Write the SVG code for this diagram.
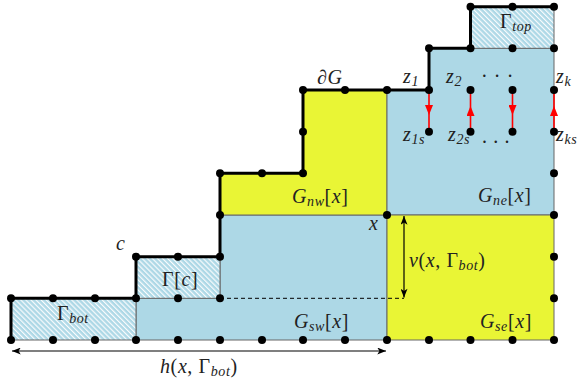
<svg xmlns="http://www.w3.org/2000/svg" width="579" height="388" viewBox="0 0 579 388">
<style>
.blue{fill:#add8e6;stroke:#666;stroke-width:1}
.yel{fill:#e9f535;stroke:#666;stroke-width:1}
.hat{fill:url(#hatch);stroke:#666;stroke-width:1}
.bd{fill:none;stroke:#000;stroke-width:3;stroke-linejoin:miter}
text{font-family:'Liberation Serif','Times New Roman',serif;font-size:20px;fill:#222;letter-spacing:0.6px}
.i{font-style:italic}
.s{font-size:14px;font-style:italic}
.dot{fill:#000}
.red{stroke:#f00;stroke-width:1.6;fill:none}
.blk{stroke:#000;stroke-width:1.2;fill:none}
</style>
<defs>
<pattern id="hatch" patternUnits="userSpaceOnUse" width="3.6" height="3.6" patternTransform="rotate(-45)">
<rect width="3.6" height="3.6" fill="#add8e6"/>
<line x1="0.6" y1="0" x2="0.6" y2="3.6" stroke="#fff" stroke-width="1.1"/>
</pattern>
<marker id="rh" viewBox="0 0 10 8" refX="10" refY="4" markerWidth="10" markerHeight="8" markerUnits="userSpaceOnUse" orient="auto">
<path d="M0,0 L10,4 L0,8 Z" fill="#f00"/>
</marker>
<marker id="ah" viewBox="0 0 10 8" refX="10" refY="4" markerWidth="10" markerHeight="7" markerUnits="userSpaceOnUse" orient="auto-start-reverse">
<path d="M0,0 L10,4 L0,8 L2.5,4 Z" fill="#000"/>
</marker>
</defs>

<g id="G_sw"><path class="blue" d="M136,298.3 L220,298.3 L220,215 L387,215 L387,340 L136,340 Z"/></g>
<g id="G_nw"><path class="yel" d="M220,215 L220,173.3 L303,173.3 L303,90 L387,90 L387,215 Z"/></g>
<g id="G_ne"><path class="blue" d="M387,90 L429,90 L429,48.3 L554,48.3 L554,215 L387,215 Z"/></g>
<g id="G_se"><path class="yel" d="M387,215 L554,215 L554,340 L387,340 Z"/></g>
<g id="Gamma_bot"><rect class="hat" x="11" y="298.3" width="125" height="41.7"/></g>
<g id="Gamma_c"><rect class="hat" x="136" y="256.7" width="84" height="41.6"/></g>
<g id="Gamma_top"><rect class="hat" x="470.5" y="6.7" width="83.5" height="41.6"/></g>

<g id="boundary"><path class="bd" d="M11,340 L11,298.3 L136,298.3 L136,256.7 L220,256.7 L220,173.3 L303,173.3 L303,90 L429,90 L429,48.3 L470.5,48.3 L470.5,6.7 L554,6.7"/></g>

<g id="connectors">
<line x1="220" y1="298.3" x2="404" y2="298.3" stroke="#000" stroke-width="1" stroke-dasharray="4,3"/>
<line class="blk" x1="404" y1="216" x2="404" y2="297.5" marker-start="url(#ah)" marker-end="url(#ah)"/>
<line class="blk" x1="12" y1="351" x2="386" y2="351" marker-start="url(#ah)" marker-end="url(#ah)"/>
<path class="red" d="M429,90 L429,115 L429,131.7" marker-mid="url(#rh)"/>
<path class="red" d="M470.5,131.7 L470.5,106 L470.5,90" marker-mid="url(#rh)"/>
<path class="red" d="M512.5,90 L512.5,115 L512.5,131.7" marker-mid="url(#rh)"/>
<path class="red" d="M554,131.7 L554,106 L554,90" marker-mid="url(#rh)"/>
</g>

<g id="dots" class="dot">
<circle cx="11" cy="340" r="4"/><circle cx="53" cy="340" r="4"/><circle cx="95" cy="340" r="4"/><circle cx="136" cy="340" r="4"/><circle cx="178" cy="340" r="4"/><circle cx="220" cy="340" r="4"/><circle cx="262" cy="340" r="4"/><circle cx="303" cy="340" r="4"/><circle cx="345" cy="340" r="4"/><circle cx="387" cy="340" r="4"/><circle cx="429" cy="340" r="4"/><circle cx="470.5" cy="340" r="4"/><circle cx="512.5" cy="340" r="4"/><circle cx="554" cy="340" r="4"/>
<circle cx="11" cy="298.3" r="4"/><circle cx="53" cy="298.3" r="4"/><circle cx="95" cy="298.3" r="4"/><circle cx="136" cy="298.3" r="4"/><circle cx="178" cy="298.3" r="4"/><circle cx="220" cy="298.3" r="4"/><circle cx="554" cy="298.3" r="4"/>
<circle cx="136" cy="256.7" r="4"/><circle cx="178" cy="256.7" r="4"/><circle cx="220" cy="256.7" r="4"/><circle cx="554" cy="256.7" r="4"/>
<circle cx="220" cy="215" r="4"/><circle cx="387" cy="215" r="4"/><circle cx="554" cy="215" r="4"/>
<circle cx="220" cy="173.3" r="4"/><circle cx="262" cy="173.3" r="4"/><circle cx="303" cy="173.3" r="4"/><circle cx="554" cy="173.3" r="4"/>
<circle cx="303" cy="131.7" r="4"/><circle cx="429" cy="131.7" r="4"/><circle cx="470.5" cy="131.7" r="4"/><circle cx="512.5" cy="131.7" r="4"/><circle cx="554" cy="131.7" r="4"/>
<circle cx="303" cy="90" r="4"/><circle cx="345" cy="90" r="4"/><circle cx="387" cy="90" r="4"/><circle cx="429" cy="90" r="4"/><circle cx="470.5" cy="90" r="4"/><circle cx="512.5" cy="90" r="4"/><circle cx="554" cy="90" r="4"/>
<circle cx="429" cy="48.3" r="4"/><circle cx="470.5" cy="48.3" r="4"/><circle cx="512.5" cy="48.3" r="4"/><circle cx="554" cy="48.3" r="4"/>
<circle cx="470.5" cy="6.7" r="4"/><circle cx="512.5" cy="6.7" r="4"/><circle cx="554" cy="6.7" r="4"/>
</g>

<g id="labels">
<text x="116" y="250" class="i">c</text>
<text x="162" y="286">Γ[<tspan class="i">c</tspan>]</text>
<text x="57" y="320">Γ<tspan class="s" dy="3">bot</tspan></text>
<text x="500" y="28">Γ<tspan class="s" dy="3">top</tspan></text>
<text x="317" y="84"><tspan class="i">∂G</tspan></text>
<text x="403" y="83" class="i">z<tspan class="s" dy="3">1</tspan></text>
<text x="446" y="83" class="i">z<tspan class="s" dy="3">2</tspan></text>
<text x="481" y="83">· · ·</text>
<text x="556" y="83" class="i">z<tspan class="s" dy="3">k</tspan></text>
<text x="403" y="141" class="i">z<tspan class="s" dy="3">1s</tspan></text>
<text x="448" y="141" class="i">z<tspan class="s" dy="3">2s</tspan></text>
<text x="482" y="143">. . .</text>
<text x="556" y="141" class="i">z<tspan class="s" dy="3">ks</tspan></text>
<text x="292" y="203" class="i">G<tspan class="s" dy="3">nw</tspan><tspan dy="-3" font-style="normal">[</tspan>x<tspan font-style="normal">]</tspan></text>
<text x="478" y="202" class="i">G<tspan class="s" dy="3">ne</tspan><tspan dy="-3" font-style="normal">[</tspan>x<tspan font-style="normal">]</tspan></text>
<text x="369" y="230" class="i">x</text>
<text x="409" y="267" class="i">v<tspan font-style="normal">(</tspan>x<tspan font-style="normal">, Γ</tspan><tspan class="s" dy="3">bot</tspan><tspan dy="-3" font-style="normal">)</tspan></text>
<text x="294" y="328" class="i">G<tspan class="s" dy="3">sw</tspan><tspan dy="-3" font-style="normal">[</tspan>x<tspan font-style="normal">]</tspan></text>
<text x="480" y="328" class="i">G<tspan class="s" dy="3">se</tspan><tspan dy="-3" font-style="normal">[</tspan>x<tspan font-style="normal">]</tspan></text>
<text x="160" y="373" class="i">h<tspan font-style="normal">(</tspan>x<tspan font-style="normal">, Γ</tspan><tspan class="s" dy="3">bot</tspan><tspan dy="-3" font-style="normal">)</tspan></text>
</g>
</svg>
